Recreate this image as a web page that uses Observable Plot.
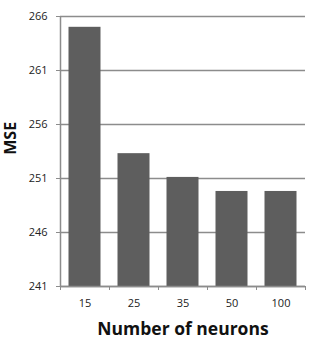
<!DOCTYPE html>
<html>
<head>
<meta charset="utf-8">
<script src="https://cdn.jsdelivr.net/npm/d3@7"></script>
<script src="https://cdn.jsdelivr.net/npm/@observablehq/plot@0.6"></script>
<style>
  html, body { margin: 0; padding: 0; background: #fff; }
  #chart { width: 309px; height: 342px; }
</style>
</head>
<body>
<div id="chart"></div>
<script>
const categories = ["15", "25", "35", "50", "100"];
const mse = [265.0, 253.3, 251.1, 249.8, 249.8];
const yTicks = [241, 246, 251, 256, 261, 266];

const data = categories.map((c, i) => ({cat: c, i, value: mse[i]}));
const font = "'Open Sans', sans-serif";

const chart = Plot.plot({
  width: 309,
  height: 342,
  marginLeft: 60,
  marginRight: 4,
  marginTop: 16,
  marginBottom: 56,
  style: {fontFamily: font, fontSize: "11px", color: "#222", background: "#fff"},
  x: {type: "linear", domain: [0, categories.length]},
  y: {domain: [241, 266]},
  marks: [
    Plot.gridY(yTicks, {stroke: "#8c8c8c", strokeOpacity: 1, strokeWidth: 1.5}),
    Plot.rectY(data, {x1: d => d.i, x2: d => d.i + 1, y1: 241, y2: "value", fill: "#5e5e5e", insetLeft: 8.5, insetRight: 8.5}),
    Plot.ruleX([0], {stroke: "#8c8c8c", strokeWidth: 1.5}),
    Plot.ruleY([241], {stroke: "#8c8c8c", strokeWidth: 1.5}),
    Plot.axisY(yTicks, {tickSize: 4, tickPadding: 9, stroke: "#8c8c8c", fill: "#222", fontSize: 11, label: null}),
    Plot.axisX(d3.range(categories.length + 1), {tickSize: 4, tickFormat: () => "", stroke: "#8c8c8c", label: null}),
    Plot.axisX(categories.map((c, i) => i + 0.5), {tickSize: 0, tickPadding: 13, tickFormat: (d) => categories[Math.floor(d)], fill: "#222", fontSize: 11, label: null}),
    Plot.text(["Number of neurons"], {frameAnchor: "bottom", dy: 48, x: categories.length / 2, fontWeight: "bold", fontSize: 17.5, fill: "#111", lineAnchor: "bottom"}),
    Plot.text(["MSE"], {frameAnchor: "left", dx: -50, y: 253.2, rotate: -90, fontWeight: "bold", fontSize: 16, fill: "#111"})
  ]
});
document.getElementById("chart").appendChild(chart);
</script>
</body>
</html>
